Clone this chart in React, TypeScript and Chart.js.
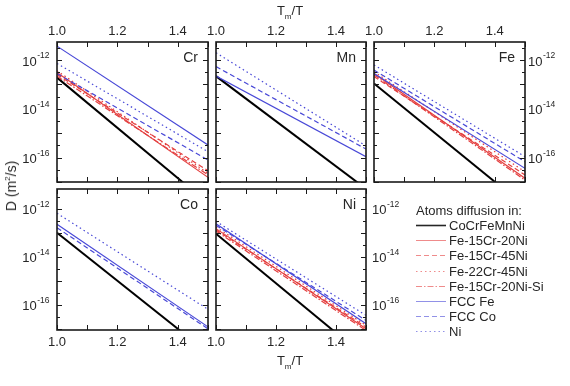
import React, { useEffect, useRef } from 'react';
import { Chart, registerables } from 'chart.js';

Chart.register(...registerables);

// ---------- data ----------
const SERIES_NAMES = [
  'CoCrFeMnNi',
  'Fe-15Cr-20Ni',
  'Fe-15Cr-45Ni',
  'Fe-22Cr-45Ni',
  'Fe-15Cr-20Ni-Si',
  'FCC Fe',
  'FCC Co',
  'Ni',
];

// Tm/T values where each straight Arrhenius line is evaluated
const X_START = 1.0;
const X_END = 1.5;
const X_TICKS = [1.0, 1.1, 1.2, 1.3, 1.4, 1.5];
const X_TICK_LABELS = [1.0, 1.2, 1.4];
const Y_TICK_EXPONENTS = [-17, -16, -15, -14, -13, -12, -11];
const Y_LABEL_EXPONENTS = [-12, -14, -16];

// log10 D (m^2/s) at Tm/T = 1.0 and 1.5 (null = not shown in that panel)
const CR_START = [-12.72, -12.51, -12.59, -12.44, -12.66, -11.43, -12.55, -12.14];
const CR_END = [-17.87, -16.81, -16.54, -16.64, -16.71, -15.48, -16.1, -15.76];

const MN_START = [-12.66, null, null, null, null, -12.66, -12.27, -11.7];
const MN_END = [-17.28, null, null, null, null, -15.96, -15.65, -15.52];

const FE_START = [-12.96, -12.55, -12.68, -12.48, -12.61, -12.55, -12.41, -12.2];
const FE_END = [-18.0, -16.85, -16.71, -16.58, -16.92, -16.44, -16.17, -15.96];

const CO_START = [-13.0, null, null, null, null, -12.65, -12.79, -12.19];
const CO_END = [-18.0, null, null, null, null, -16.92, -17.0, -16.19];

const NI_START = [-13.04, -12.83, -12.88, -12.76, -12.93, -12.63, -12.69, -12.53];
const NI_END = [-18.2, -17.0, -16.93, -16.86, -17.07, -16.79, -16.65, -16.44];

// ---------- styles ----------
const RED = 'rgb(228,62,62)';
const BLUE = 'rgb(72,72,215)';
const SERIES_COLORS = ['#000000', RED, RED, RED, RED, BLUE, BLUE, BLUE];
const SERIES_DASH = [[], [], [5, 3], [1.5, 3], [6, 2, 1.5, 2], [], [5, 3], [1.5, 3]];
const SERIES_WIDTH = [2, 1.2, 1.2, 1.2, 1.2, 1.2, 1.2, 1.2];

const FONT = '"Liberation Sans", Arial, Helvetica, sans-serif';
const TEXT = '#262626';

type PanelCfg = {
  name: string;
  start: (number | null)[];
  end: (number | null)[];
  box: [number, number, number, number]; // l, t, r, b of plot area on page
  xPos: 'top' | 'bottom';
  ySide: 'left' | 'right' | 'none';
  yGap: number;
  yMinExp: number;
  yMaxExp: number;
};

const PANELS: PanelCfg[] = [
  { name: 'Cr', start: CR_START, end: CR_END, box: [57, 42, 208, 182], xPos: 'top', ySide: 'left', yGap: 8, yMinExp: -17.0, yMaxExp: -11.26 },
  { name: 'Mn', start: MN_START, end: MN_END, box: [216, 42, 366, 182], xPos: 'top', ySide: 'none', yGap: 0, yMinExp: -17.0, yMaxExp: -11.26 },
  { name: 'Fe', start: FE_START, end: FE_END, box: [374, 42, 525, 182], xPos: 'top', ySide: 'right', yGap: 3, yMinExp: -17.0, yMaxExp: -11.26 },
  { name: 'Co', start: CO_START, end: CO_END, box: [57, 189, 208, 330], xPos: 'bottom', ySide: 'left', yGap: 8, yMinExp: -17.05, yMaxExp: -11.18 },
  { name: 'Ni', start: NI_START, end: NI_END, box: [216, 189, 366, 330], xPos: 'bottom', ySide: 'right', yGap: 6, yMinExp: -17.05, yMaxExp: -11.18 },
];

const MX = 60; // horizontal canvas margin around plot area
const MY = 40; // vertical canvas margin around plot area
const XAXIS_H = 20;

const framePlugin = {
  id: 'frame',
  afterDatasetsDraw(chart: any, _args: any, opts: any) {
    const { ctx, chartArea: a, scales } = chart;
    const xs = scales.x;
    const ys = scales.y;
    ctx.save();
    ctx.strokeStyle = '#1a1a1a';
    ctx.lineWidth = 1;
    ctx.beginPath();
    X_TICKS.forEach((v) => {
      const px = Math.round(xs.getPixelForValue(v)) + 0.5;
      ctx.moveTo(px, a.bottom);
      ctx.lineTo(px, a.bottom - 5);
      ctx.moveTo(px, a.top);
      ctx.lineTo(px, a.top + 5);
    });
    Y_TICK_EXPONENTS.forEach((e) => {
      [e, e + 0.5].forEach((ee, k) => {
        const v = Math.pow(10, ee);
        if (v < ys.min || v > ys.max) return;
        const py = Math.round(ys.getPixelForValue(v)) + 0.5;
        const len = k === 0 ? 5 : 3;
        ctx.moveTo(a.left, py);
        ctx.lineTo(a.left + len, py);
        ctx.moveTo(a.right, py);
        ctx.lineTo(a.right - len, py);
      });
    });
    ctx.stroke();
    ctx.lineWidth = 1.6;
    ctx.strokeRect(a.left, a.top, a.right - a.left, a.bottom - a.top);

    // y tick labels: 10^exp
    ctx.fillStyle = TEXT;
    ctx.textBaseline = 'middle';
    if (opts.side !== 'none') {
      Y_LABEL_EXPONENTS.forEach((e) => {
        const py = ys.getPixelForValue(Math.pow(10, e));
        const expStr = String(e);
        ctx.font = `13px ${FONT}`;
        const baseW = ctx.measureText('10').width;
        ctx.font = `8.5px ${FONT}`;
        const expW = ctx.measureText(expStr).width;
        let x0: number;
        if (opts.side === 'left') {
          x0 = a.left - opts.gap - expW - baseW;
        } else {
          x0 = a.right + opts.gap;
        }
        ctx.textAlign = 'left';
        ctx.font = `13px ${FONT}`;
        ctx.fillText('10', x0, py + 2);
        ctx.font = `8.5px ${FONT}`;
        ctx.fillText(expStr, x0 + baseW + 0.5, py - 4);
      });
    }

    // panel name
    ctx.font = `14px ${FONT}`;
    ctx.textAlign = 'right';
    ctx.textBaseline = 'middle';
    ctx.fillText(opts.name, a.right - 10, a.top + 16);
    ctx.restore();
  },
};

function PanelChart({ cfg }: { cfg: PanelCfg }) {
  const ref = useRef<HTMLCanvasElement | null>(null);
  const [l, t, r, b] = cfg.box;
  const w = r - l + 2 * MX;
  const h = b - t + 2 * MY;

  useEffect(() => {
    if (!ref.current) return;
    const datasets: any[] = [];
    SERIES_NAMES.forEach((name, i) => {
      const s = cfg.start[i];
      const e = cfg.end[i];
      if (s === null || e === null) return;
      datasets.push({
        label: name,
        data: [
          { x: X_START, y: Math.pow(10, s) },
          { x: X_END, y: Math.pow(10, e) },
        ],
        borderColor: SERIES_COLORS[i],
        backgroundColor: SERIES_COLORS[i],
        borderWidth: SERIES_WIDTH[i],
        borderDash: SERIES_DASH[i],
        pointRadius: 0,
        tension: 0,
        fill: false,
        order: 8 - i,
      });
    });
    const chart = new Chart(ref.current, {
      type: 'line',
      data: { datasets },
      options: {
        animation: false,
        responsive: false,
        maintainAspectRatio: false,
        events: [],
        layout: {
          padding: {
            left: MX,
            right: MX,
            top: cfg.xPos === 'top' ? MY - XAXIS_H : MY,
            bottom: cfg.xPos === 'bottom' ? MY - XAXIS_H : MY,
          },
        },
        plugins: {
          legend: { display: false },
          tooltip: { enabled: false },
          frame: { side: cfg.ySide, gap: cfg.yGap, name: cfg.name },
        } as any,
        scales: {
          x: {
            type: 'linear',
            position: cfg.xPos,
            min: X_START,
            max: X_END,
            grid: { display: false, drawTicks: false },
            border: { display: false },
            ticks: {
              stepSize: 0.1,
              autoSkip: false,
              maxRotation: 0,
              padding: cfg.xPos === 'top' ? 3 : 5,
              color: TEXT,
              font: { family: FONT, size: 13 },
              callback: (v: any) =>
                X_TICK_LABELS.some((tv) => Math.abs(tv - Number(v)) < 1e-6) ? Number(v).toFixed(1) : '',
            },
            afterFit: (s: any) => {
              s.height = XAXIS_H;
            },
          },
          y: {
            type: 'logarithmic',
            display: false,
            min: Math.pow(10, cfg.yMinExp),
            max: Math.pow(10, cfg.yMaxExp),
          },
        },
      } as any,
      plugins: [framePlugin],
    });
    return () => chart.destroy();
  }, [cfg]);

  return (
    <canvas
      ref={ref}
      width={w}
      height={h}
      style={{ position: 'absolute', left: l - MX, top: t - MY, width: w, height: h }}
    />
  );
}

const LEGEND_TOP = 225.7;
const LEGEND_STEP = 15.14;

export default function App() {
  return (
    <div
      style={{
        position: 'absolute',
        left: 0,
        top: 0,
        width: 570,
        height: 386,
        background: '#fff',
        overflow: 'hidden',
        fontFamily: FONT,
        color: TEXT,
      }}
    >
      {PANELS.map((p) => (
        <PanelChart key={p.name} cfg={p} />
      ))}

      {/* axis titles */}
      <div style={{ position: 'absolute', left: 290, top: 12, transform: 'translate(-50%,-50%)', fontSize: 13, whiteSpace: 'nowrap' }}>
        T<sub style={{ fontSize: 8 }}>m</sub>/T
      </div>
      <div style={{ position: 'absolute', left: 290, top: 362, transform: 'translate(-50%,-50%)', fontSize: 13, whiteSpace: 'nowrap' }}>
        T<sub style={{ fontSize: 8 }}>m</sub>/T
      </div>
      <div
        style={{
          position: 'absolute',
          left: 11,
          top: 186,
          transform: 'translate(-50%,-50%) rotate(-90deg)',
          fontSize: 14,
          whiteSpace: 'nowrap',
        }}
      >
        D (m<sup style={{ fontSize: 8 }}>2</sup>/s)
      </div>

      {/* legend */}
      <div style={{ position: 'absolute', left: 416, top: 210, transform: 'translateY(-50%)', fontSize: 13, whiteSpace: 'nowrap', lineHeight: '15px' }}>
        Atoms diffusion in:
      </div>
      {SERIES_NAMES.map((name, i) => (
        <div
          key={name}
          style={{
            position: 'absolute',
            left: 416,
            top: LEGEND_TOP + i * LEGEND_STEP - 7.5,
            height: 15,
            display: 'flex',
            alignItems: 'center',
            fontSize: 13,
            lineHeight: '15px',
            whiteSpace: 'nowrap',
          }}
        >
          <svg width={30} height={15} style={{ display: 'block' }}>
            <line
              x1={0}
              y1={7.5}
              x2={30}
              y2={7.5}
              stroke={SERIES_COLORS[i]}
              strokeWidth={i === 0 ? 1.6 : 1}
              strokeOpacity={i === 0 ? 0.85 : 0.6}
              strokeDasharray={SERIES_DASH[i].length ? SERIES_DASH[i].join(',') : undefined}
            />
          </svg>
          <span style={{ marginLeft: 3 }}>{name}</span>
        </div>
      ))}
    </div>
  );
}
